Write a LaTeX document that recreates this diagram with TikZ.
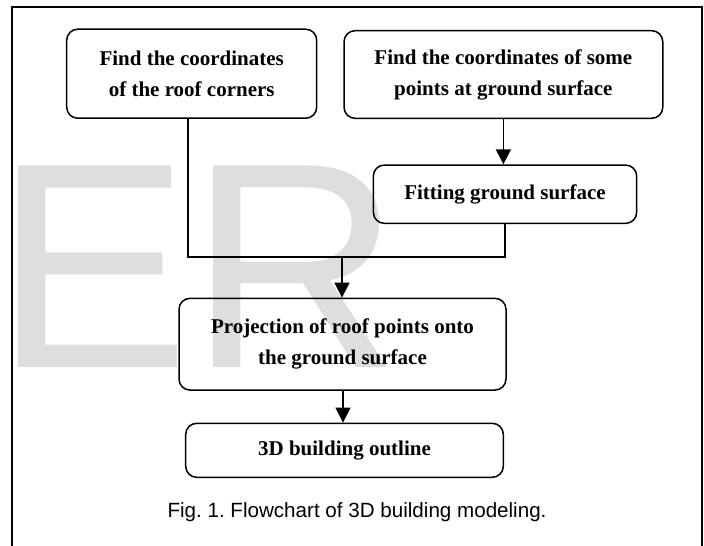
\documentclass[tikz,border=0pt]{standalone}
\usepackage{fontspec}
\setmainfont{Liberation Serif}
\newfontfamily\capfont{Liberation Sans}
\usetikzlibrary{arrows.meta}
\frenchspacing
\begin{document}
\begin{tikzpicture}[x=1pt,y=-1pt,
  stepbox/.style={draw, line width=1.5pt, rounded corners=11pt, inner sep=0pt,
    align=center, font=\fontsize{21}{31}\selectfont\bfseries},
  conn/.style={line width=1.6pt},
  arr/.style={line width=1.6pt, -{Triangle[length=15pt,width=15pt]}},
  frame/.style={line width=1.6pt}
]
\useasboundingbox (0,0) rectangle (704,546);
% watermark
\node[anchor=base west, inner sep=0pt, text=black!13,
  font=\capfont\fontsize{293}{293}\selectfont] (wm) at (-6,367) {ER};
% frame
\draw[frame] (12,548) -- (12,7) -- (702,7) -- (702,548);
% boxes
\node[stepbox, minimum width=250pt, minimum height=89pt] (b1) at (191.7,73.7)
  {Find the coordinates\\of the roof corners};
\node[stepbox, minimum width=318.7pt, minimum height=87.6pt] (b2) at (503.4,74.5)
  {Find the coordinates of some\\points at ground surface};
\node[stepbox, minimum width=263.3pt, minimum height=58.3pt] (b3) at (505,194.2)
  {Fitting ground surface};
\node[stepbox, minimum width=327pt, minimum height=91.7pt] (b4) at (342.5,344.2)
  {Projection of roof points onto\\the ground surface};
\node[stepbox, minimum width=317.6pt, minimum height=54pt] (b5) at (344.5,450.3)
  {3D building outline};
% caption
\node[inner sep=0pt, anchor=base, font=\capfont\fontsize{20.6}{24}\selectfont] (cap) at (357,517)
  {Fig. 1. Flowchart of 3D building modeling.};
% connectors
\coordinate (j1) at (188,257);
\coordinate (j2) at (342,257);
\draw[arr] (b2.south) -- (b2.south |- b3.north);
\draw[conn] (b1.south -| j1) -- (j1) -- (j1 -| b3.south) -- (b3.south);
\draw[arr] (j2) -- (j2 |- b4.north);
\draw[arr] (b4.south -| 343,0) -- (b5.north -| 343,0);
\end{tikzpicture}
\end{document}
